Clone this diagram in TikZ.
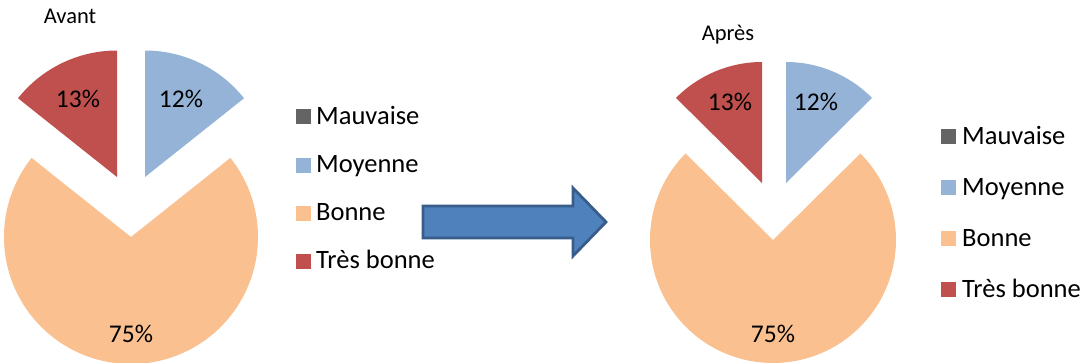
\documentclass[tikz,border=0pt]{standalone}
\usepackage{fontspec}
\setmainfont{Carlito}
\definecolor{mauv}{HTML}{646464}
\definecolor{moy}{HTML}{95B3D7}
\definecolor{bon}{HTML}{FAC090}
\definecolor{tbon}{HTML}{C0504D}
\definecolor{arrfill}{HTML}{4F81BD}
\definecolor{arrline}{HTML}{385D8A}
\tikzset{
  pct/.style={font=\fontsize{25.5}{30}\selectfont, inner sep=0pt, anchor=base},
  ttl/.style={font=\fontsize{22.5}{27}\selectfont, inner sep=0pt, anchor=base},
  legtxt/.style={font=\fontsize{26.5}{31}\selectfont, inner sep=0pt, anchor=base west},
  legsq/.style={minimum size=15pt, inner sep=0pt, outer sep=0pt},
  blockarrow/.style={fill=arrfill, draw=arrline, line width=2.8pt, line join=miter}
}
\begin{document}
\begin{tikzpicture}[x=1pt,y=1pt]
\clip (0,0) rectangle (1082,-362);
\fill[white] (0,0) rectangle (1082,-362);
% ---------- left pie (Avant)
\fill[moy]  (145,-177) -- ++(38.5:126.5) arc[start angle=38.5,end angle=90,radius=126.5] -- cycle;
\fill[tbon] (117,-177) -- ++(90:126.5) arc[start angle=90,end angle=141.5,radius=126.5] -- cycle;
\fill[bon]  (131,-237) -- ++(141.5:127) arc[start angle=141.5,end angle=398.5,radius=127] -- cycle;
\node[ttl] (tAvant) at (70,-23) {Avant};
\node[pct] (l13) at (78,-107) {13\%};
\node[pct] (l12) at (181,-107) {12\%};
\node[pct] (l75) at (131,-342) {75\%};
% left legend
\node[legsq, fill=mauv] (lsq1) at (303.5,-116.5) {};
\node[legsq, fill=moy]  (lsq2) at (303.5,-165) {};
\node[legsq, fill=bon]  (lsq3) at (303.5,-213) {};
\node[legsq, fill=tbon] (lsq4) at (303.5,-261) {};
\node[legtxt] (lt1) at (316,-124) {Mauvaise};
\node[legtxt] (lt2) at (316,-172.5) {Moyenne};
\node[legtxt] (lt3) at (316,-220.5) {Bonne};
\node[legtxt] (lt4) at (316,-268.5) {Très bonne};
% ---------- block arrow
\draw[blockarrow] (423,-206) -- (573,-206) -- (573,-188) -- (606,-222) -- (573,-256) -- (573,-238) -- (423,-238) -- cycle;
% ---------- right pie (Après)
\fill[moy]  (786,-183) -- ++(44.7:121) arc[start angle=44.7,end angle=90,radius=121] -- cycle;
\fill[tbon] (762,-183) -- ++(90:121) arc[start angle=90,end angle=135.3,radius=121] -- cycle;
\fill[bon]  (773,-240) -- ++(135.3:123) arc[start angle=135.3,end angle=404.7,radius=123] -- cycle;
\node[ttl] (tApres) at (728,-40) {Après};
\node[pct] (r13) at (730,-110) {13\%};
\node[pct] (r12) at (816,-110) {12\%};
\node[pct] (r75) at (773,-342) {75\%};
% right legend
\node[legsq, fill=mauv] (rsq1) at (948.5,-136) {};
\node[legsq, fill=moy]  (rsq2) at (948.5,-187) {};
\node[legsq, fill=bon]  (rsq3) at (948.5,-238) {};
\node[legsq, fill=tbon] (rsq4) at (948.5,-289) {};
\node[legtxt] (rt1) at (962,-144) {Mauvaise};
\node[legtxt] (rt2) at (962,-195) {Moyenne};
\node[legtxt] (rt3) at (962,-246) {Bonne};
\node[legtxt] (rt4) at (962,-297) {Très bonne};
\end{tikzpicture}
\end{document}
